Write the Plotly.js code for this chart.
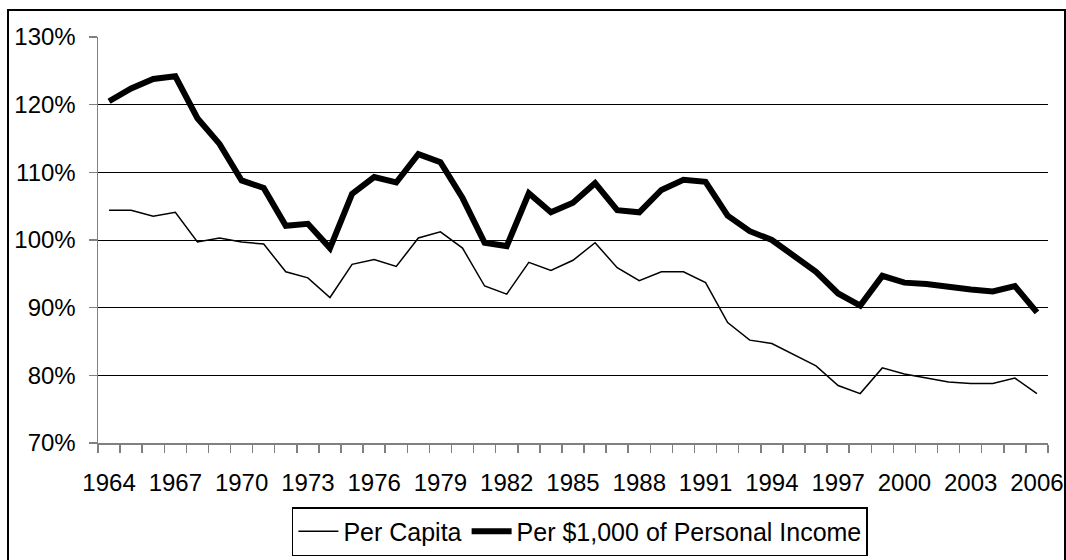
<!DOCTYPE html>
<html>
<head>
<meta charset="utf-8">
<script src="https://cdn.plot.ly/plotly-3.0.1.min.js"></script>
<style>
  html, body { margin: 0; padding: 0; background: #fff; }
  #chart { width: 1066px; height: 560px; }
  #frame { position: absolute; left: 7px; top: 9px; width: 1059px; height: 560px;
           box-sizing: border-box; border: 2px solid #000; pointer-events: none; }
</style>
</head>
<body>
<div id="chart"></div>
<div id="frame"></div>
<script>
const years = [1964,1965,1966,1967,1968,1969,1970,1971,1972,1973,1974,1975,1976,1977,1978,1979,1980,1981,1982,1983,1984,1985,1986,1987,1988,1989,1990,1991,1992,1993,1994,1995,1996,1997,1998,1999,2000,2001,2002,2003,2004,2005,2006];

const perCapita = [104.4,104.4,103.5,104.1,99.7,100.3,99.7,99.4,95.3,94.4,91.5,96.4,97.1,96.1,100.3,101.2,98.8,93.2,92.0,96.7,95.5,97.0,99.6,95.9,94.0,95.3,95.3,93.7,87.8,85.2,84.7,83.0,81.4,78.5,77.3,81.1,80.2,79.6,79.0,78.8,78.8,79.6,77.3];

const perIncome = [120.5,122.4,123.8,124.2,118.0,114.2,108.8,107.7,102.1,102.4,98.8,106.8,109.3,108.5,112.7,111.5,106.2,99.6,99.1,106.9,104.1,105.5,108.4,104.4,104.1,107.4,108.9,108.6,103.6,101.3,100.0,97.7,95.3,92.1,90.3,94.7,93.7,93.5,93.0,92.7,92.4,93.2,89.3];

const seriesNames = ["Per Capita", "Per $1,000 of Personal Income"];

const labelYears = [1964,1967,1970,1973,1976,1979,1982,1985,1988,1991,1994,1997,2000,2003,2006];
const yTicks = [70,80,90,100,110,120,130];
const yTickText = yTicks.map(v => v + "%");
const boundaries = [];
for (let y = years[0] - 0.5; y <= years[years.length - 1] + 0.5; y += 1) boundaries.push(y);

const traces = [
  { x: years, y: perCapita, name: seriesNames[0], type: "scatter", mode: "lines",
    line: { color: "#000", width: 1.5 } },
  { x: years, y: perIncome, name: seriesNames[1], type: "scatter", mode: "lines",
    line: { color: "#000", width: 6 } }
];

const font = { family: "Liberation Sans, Arial, sans-serif", size: 24, color: "#000" };

const layout = {
  width: 1066, height: 560,
  margin: { l: 98, r: 18, t: 37, b: 117 },
  paper_bgcolor: "#fff", plot_bgcolor: "#fff",
  font: font,
  showlegend: true,
  legend: {
    orientation: "h",
    xref: "container", x: 0.544, xanchor: "center",
    yref: "container", y: 0.0946, yanchor: "top",
    bordercolor: "#000", borderwidth: 1.5, bgcolor: "#fff",
    font: { family: font.family, size: 25, color: "#000" },
    itemwidth: 40
  },
  xaxis: {
    automargin: false,
    range: [years[0] - 0.5, years[years.length - 1] + 0.5],
    tickmode: "array", tickvals: labelYears, ticktext: labelYears.map(String),
    ticks: "", ticklabelstandoff: 18,
    showgrid: false, zeroline: false,
    showline: true, linecolor: "#808080", linewidth: 1.5,
    tickfont: font,
    minor: { tickmode: "array", tickvals: boundaries, ticks: "outside", ticklen: 8,
             tickcolor: "#808080", tickwidth: 1.5, showgrid: false }
  },
  yaxis: {
    automargin: false,
    range: [70, 130],
    tickmode: "array", tickvals: yTicks, ticktext: yTickText,
    ticks: "outside", ticklen: 8, tickcolor: "#808080", tickwidth: 1.5,
    ticklabelstandoff: 8,
    showgrid: true, gridcolor: "#000", gridwidth: 1,
    zeroline: false,
    showline: true, linecolor: "#808080", linewidth: 1.5,
    tickfont: font
  }
};

Plotly.newPlot("chart", traces, layout, { displayModeBar: false, staticPlot: true });
</script>
</body>
</html>
